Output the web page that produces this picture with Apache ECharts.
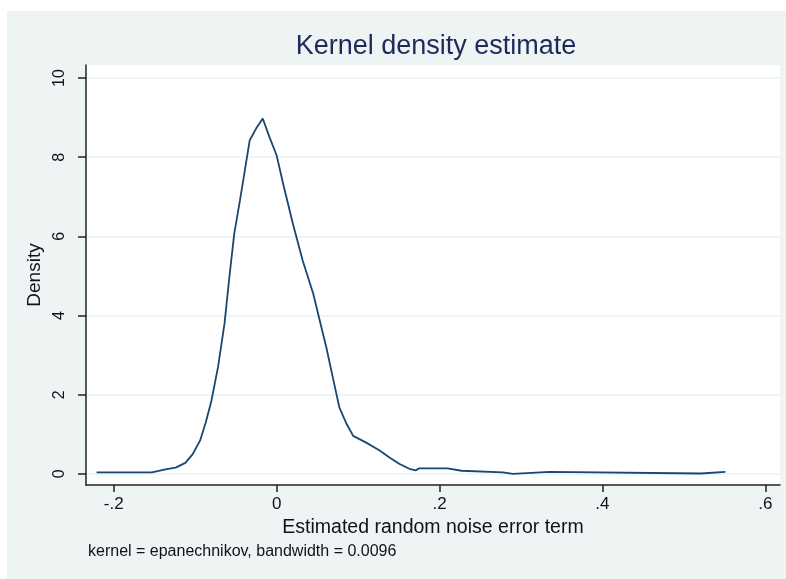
<!DOCTYPE html>
<html>
<head>
<meta charset="utf-8">
<script src="https://cdn.jsdelivr.net/npm/echarts@6/dist/echarts.min.js"></script>
<style>
  html, body { margin: 0; padding: 0; background: #ffffff; }
  #chart { width: 786px; height: 579px; }
</style>
</head>
<body>
<div id="chart"></div>
<script>
// Kernel density curve: [x, density]
const densityX = [-0.221, -0.153, -0.152, -0.138, -0.124, -0.112, -0.103, -0.094, -0.087, -0.080,
  -0.072, -0.064, -0.058, -0.052, -0.045, -0.039, -0.033, -0.025, -0.017, -0.009,
  0.000, 0.008, 0.020, 0.032, 0.045, 0.053, 0.061, 0.069, 0.077, 0.086,
  0.094, 0.110, 0.126, 0.139, 0.151, 0.163, 0.171, 0.175, 0.210, 0.212,
  0.227, 0.229, 0.278, 0.280, 0.290, 0.292, 0.335, 0.337, 0.521, 0.523, 0.551];
const densityY = [0.04, 0.04, 0.08, 0.11, 0.16, 0.28, 0.50, 0.84, 1.30, 1.85,
  2.69, 3.79, 4.97, 6.07, 6.91, 7.67, 8.43, 8.73, 8.98, 8.52,
  8.05, 7.33, 6.32, 5.39, 4.55, 3.87, 3.20, 2.44, 1.68, 1.26,
  0.96, 0.79, 0.60, 0.41, 0.25, 0.13, 0.09, 0.14, 0.14, 0.09,
  0.08, 0.04, 0.04, 0.00, 0.00, 0.05, 0.05, 0.01, 0.01, 0.05, 0.05];

const xTickValues = [-0.2, 0, 0.2, 0.4, 0.6];
const xTickLabels = ['-.2', '0', '.2', '.4', '.6'];
const yTickValues = [0, 2, 4, 6, 8, 10];
const yTickLabels = ['0', '2', '4', '6', '8', '10'];

const titleText = 'Kernel density estimate';
const xAxisTitle = 'Estimated random noise error term';
const yAxisTitle = 'Density';
const noteText = 'kernel = epanechnikov, bandwidth = 0.0096';

const seriesData = densityX.map((x, i) => [x, densityY[i]]);
const FONT = '"Liberation Sans", Arial, sans-serif';
const TXT = '#111118';

const chart = echarts.init(document.getElementById('chart'), null, { renderer: 'canvas' });
chart.setOption({
  animation: false,
  backgroundColor: '#ffffff',
  title: {
    text: titleText,
    left: 431,
    top: 28,
    textAlign: 'center',
    textStyle: { fontFamily: FONT, fontSize: 27, fontWeight: 'normal', color: '#1e2a5a' }
  },
  graphic: [
    { type: 'rect', z: -100, silent: true, shape: { x: 7, y: 11, width: 779, height: 568 }, style: { fill: '#eef3f4' } },
    { type: 'text', left: 88, top: 544, style: { text: noteText, font: '16px "Liberation Sans", Arial, sans-serif', fill: TXT } }
  ],
  grid: {
    left: 86, right: 6, top: 65, bottom: 94,
    show: true, backgroundColor: '#ffffff', borderWidth: 0
  },
  xAxis: {
    type: 'value',
    min: -0.234, max: 0.618,
    name: xAxisTitle,
    nameLocation: 'middle',
    nameGap: 31,
    nameTextStyle: { fontFamily: FONT, fontSize: 19.5, color: TXT },
    axisLine: { show: true, onZero: false, lineStyle: { color: '#222222', width: 1.5 } },
    axisTick: { show: true, customValues: xTickValues, length: 7, lineStyle: { color: '#222222', width: 1.5 } },
    axisLabel: {
      customValues: xTickValues,
      margin: 11,
      fontFamily: FONT, fontSize: 17, color: TXT,
      formatter: v => { const i = xTickValues.findIndex(t => Math.abs(t - v) < 1e-9); return i >= 0 ? xTickLabels[i] : ''; }
    },
    splitLine: { show: false }
  },
  yAxis: {
    type: 'value',
    min: -0.28, max: 10.33,
    name: yAxisTitle,
    nameLocation: 'middle',
    nameGap: 33,
    nameTextStyle: { fontFamily: FONT, fontSize: 19, color: TXT },
    axisLine: { show: true, onZero: false, lineStyle: { color: '#222222', width: 1.5 } },
    axisTick: { show: true, customValues: yTickValues, length: 8, lineStyle: { color: '#222222', width: 1.5 } },
    axisLabel: {
      customValues: yTickValues,
      rotate: 90,
      margin: 18,
      fontFamily: FONT, fontSize: 16, color: TXT,
      formatter: v => { const i = yTickValues.findIndex(t => Math.abs(t - v) < 1e-9); return i >= 0 ? yTickLabels[i] : ''; }
    },
    splitLine: { show: true, lineStyle: { color: '#eaf2f3', width: 1.5 } }
  },
  series: [{
    type: 'line',
    data: seriesData,
    showSymbol: false,
    symbol: 'none',
    lineStyle: { color: '#1a476f', width: 1.8 },
    z: 3
  }]
});
</script>
</body>
</html>
